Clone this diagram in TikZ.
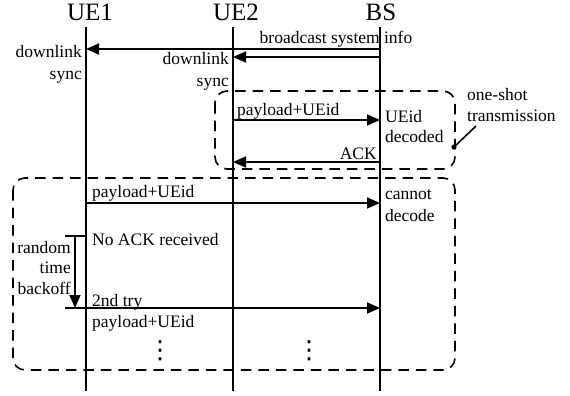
\documentclass[tikz,border=0pt]{standalone}
\usepackage{fontspec}
\setmainfont{Liberation Serif}
\newfontfamily\symfont{DejaVu Sans}
\usetikzlibrary{arrows.meta}
\begin{document}
\begin{tikzpicture}[x=1pt,y=-1pt,
  life/.style={line width=1.8pt},
  msg/.style={line width=1.6pt,-{Triangle[length=13pt,width=11pt]}},
  plain/.style={line width=1.6pt},
  dbox/.style={line width=1.6pt,dash pattern=on 10.5pt off 7pt,rounded corners=12pt},
  lbl/.style={font=\fontsize{17.5}{21}\selectfont,inner sep=0pt},
  head/.style={font=\fontsize{25}{28}\selectfont,inner sep=0pt},
  vdot/.style={font=\symfont\fontsize{25}{30}\selectfont,inner sep=0pt}]
\useasboundingbox (0,0) rectangle (570,396);
% headers
\node[head,anchor=base] (ue1) at (90,21) {UE1};
\node[head,anchor=base] (ue2) at (236,21) {UE2};
\node[head,anchor=base] (bs) at (381,21) {BS};
% lifelines
\coordinate (t1) at (86,27);  \coordinate (e1) at (86,391);
\coordinate (t2) at (233,27); \coordinate (e2) at (233,391);
\coordinate (t3) at (380,27); \coordinate (e3) at (380,391);
\draw[life] (t1) -- (e1);
\draw[life] (t2) -- (e2);
\draw[life] (t3) -- (e3);
% message points
\coordinate (bcS) at (380,49);  \coordinate (bcE) at (86,49);
\coordinate (b2S) at (380,57);  \coordinate (b2E) at (233,57);
\coordinate (p1S) at (233,120); \coordinate (p1E) at (380,120);
\coordinate (akS) at (380,162); \coordinate (akE) at (233,162);
\coordinate (p2S) at (86,203);  \coordinate (p2E) at (380,203);
\coordinate (p3S) at (65,308);  \coordinate (p3E) at (380,308);
\coordinate (bkA) at (65,236);  \coordinate (bkB) at (86,236);
\coordinate (bkT) at (75,236);  \coordinate (bkD) at (75,308);
% messages
\draw[msg] (bcS) -- (bcE);
\draw[msg] (b2S) -- (b2E);
\draw[msg] (p1S) -- (p1E);
\draw[msg] (akS) -- (akE);
\draw[msg] (p2S) -- (p2E);
\draw[msg] (p3S) -- (p3E);
\draw[plain] (bkA) -- (bkB);
\draw[msg] (bkT) -- (bkD);
% dashed boxes
\draw[dbox] (215,91) rectangle (455,169);
\draw[dbox] (13,178) rectangle (455,370);
% callout
\coordinate (dot) at (454,147);
\coordinate (cl) at (476,126);
\fill (dot) circle (2.6pt);
\draw[plain] (dot) -- (cl);
% labels
\node[lbl,anchor=base] (lbc) at (336,44) {broadcast system info};
\node[lbl,anchor=base east] (ld1a) at (82,57) {downlink};
\node[lbl,anchor=base east] (ld1b) at (82,80) {sync};
\node[lbl,anchor=base east] (ld2a) at (229,65) {downlink};
\node[lbl,anchor=base east] (ld2b) at (229,86) {sync};
\node[lbl,anchor=base west] (lp1) at (237,115) {payload+UEid};
\node[lbl,anchor=base west] (lud1) at (385,122) {UEid};
\node[lbl,anchor=base west] (lud2) at (385,142) {decoded};
\node[lbl,anchor=base east] (lack) at (377,159) {ACK};
\node[lbl,anchor=base west] (los1) at (467,100) {one-shot};
\node[lbl,anchor=base west] (los2) at (467,121) {transmission};
\node[lbl,anchor=base west] (lp2) at (92,197) {payload+UEid};
\node[lbl,anchor=base west] (lcd1) at (385,199) {cannot};
\node[lbl,anchor=base west] (lcd2) at (385,221) {decode};
\node[lbl,anchor=base west] (lna) at (92,245) {No ACK received};
\node[lbl,anchor=base east] (lr1) at (71,253) {random};
\node[lbl,anchor=base east] (lr2) at (71,273) {time};
\node[lbl,anchor=base east] (lr3) at (71,294) {backoff};
\node[lbl,anchor=base west] (l2t) at (92,306) {2nd try};
\node[lbl,anchor=base west] (lp3) at (92,327) {payload+UEid};
\node[vdot] (vd1) at (160,351) {⋮};
\node[vdot] (vd2) at (309,351) {⋮};
\end{tikzpicture}
\end{document}
